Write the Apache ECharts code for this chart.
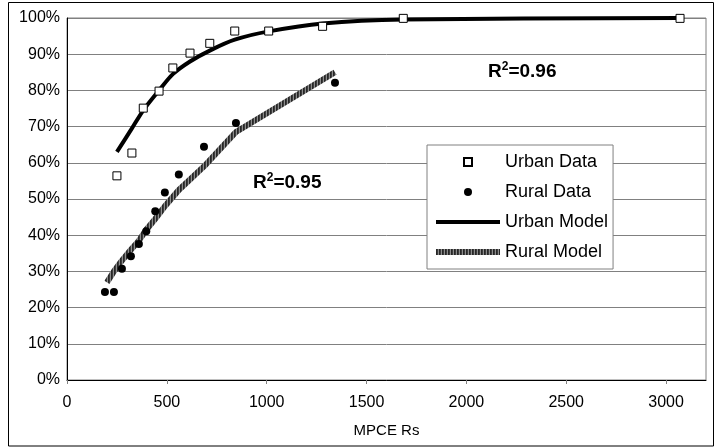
<!DOCTYPE html>
<html>
<head>
<meta charset="utf-8">
<script src="https://cdn.jsdelivr.net/npm/echarts@6/dist/echarts.min.js"></script>
<style>
  html, body { margin: 0; padding: 0; background: #fff; }
  #chart-container { width: 716px; height: 448px; }
</style>
</head>
<body>
<div id="chart-container"></div>
<script>
// values (MPCE Rs vs cumulative %)
const urbanX = [250, 325, 382, 461, 530, 616, 715, 840, 1010, 1280, 1684, 3070];
const urbanY = [56.4, 62.7, 75.1, 79.8, 86.2, 90.3, 93.0, 96.4, 96.4, 97.7, 99.9, 99.9];
const urbanModel = [63, 69.5, 74.5, 80, 84.5, 88, 91, 94, 96.3, 98.5, 99.6, 100];

const ruralX = [190, 235, 275, 320, 360, 397, 442, 490, 560, 686, 846, 1342];
const ruralY = [24.3, 24.3, 30.7, 34.2, 37.6, 41.1, 46.6, 51.8, 56.8, 64.4, 71.0, 82.1];
const ruralModelX = [200, 235, 275, 320, 360, 397, 442, 490, 560, 686, 846, 1342];
const ruralModel = [27, 30, 33, 36, 38.5, 41.5, 44.5, 48, 52.5, 59, 68.5, 85];

const xTicks = [0, 500, 1000, 1500, 2000, 2500, 3000];
const seriesNames = ['Urban Data', 'Rural Data', 'Urban Model', 'Rural Model'];

const FONT = '"Liberation Sans", Arial, sans-serif';
const SQUARE = 'path://M0,0L10,0L10,10L0,10Z';

function pairs(xs, ys) {
    return xs.map((x, i) => [x, ys[i]]);
}

// striped fill for the rural model line
function stripePattern() {
    const c = document.createElement('canvas');
    c.width = 3;
    c.height = 1;
    const ctx = c.getContext('2d');
    ctx.fillStyle = '#262626'; ctx.fillRect(0, 0, 1, 1);
    ctx.fillStyle = '#3c3c3c'; ctx.fillRect(1, 0, 1, 1);
    ctx.fillStyle = '#8c8c8c'; ctx.fillRect(2, 0, 1, 1);
    return {image: c, repeat: 'repeat'};
}

const rural_stripes = stripePattern();

const chartDom = document.getElementById('chart-container');
const myChart = echarts.init(chartDom, null, {renderer: 'canvas'});

const superText = (txt) => ({
    text: '{a|R}{s|2}{a|=' + txt + '}',
    rich: {
        a: {fontFamily: FONT, fontSize: 19, fontWeight: 'bold', fill: '#000'},
        s: {fontFamily: FONT, fontSize: 12, fontWeight: 'bold', fill: '#000', padding: [0, 0, 9, 0]}
    }
});

const option = {
    animation: false,
    backgroundColor: '#fff',
    textStyle: {fontFamily: FONT, color: '#000'},
    grid: {
        left: 67, right: 10, top: 18, bottom: 68,
        show: true, borderColor: '#808080', borderWidth: 1
    },
    xAxis: {
        type: 'value',
        min: 0, max: 3200, interval: 500,
        name: 'MPCE Rs',
        nameLocation: 'middle',
        nameGap: 43,
        nameTextStyle: {fontFamily: FONT, fontSize: 15, color: '#000'},
        axisLine: {show: true, lineStyle: {color: '#000', width: 1}},
        axisTick: {show: true, length: 4, inside: false, customValues: xTicks, lineStyle: {color: '#808080'}},
        axisLabel: {
            customValues: xTicks,
            formatter: (v) => String(v),
            fontFamily: FONT, fontSize: 16, color: '#000', margin: 15
        },
        splitLine: {show: false}
    },
    yAxis: {
        type: 'value',
        min: 0, max: 100, interval: 10,
        axisLine: {show: true, lineStyle: {color: '#000', width: 1}},
        axisTick: {show: false},
        axisLabel: {formatter: '{value}%', fontFamily: FONT, fontSize: 16, color: '#000', margin: 7},
        splitLine: {show: true, lineStyle: {color: '#808080', width: 1}}
    },
    legend: {
        data: [
            {name: seriesNames[0], icon: SQUARE},
            {name: seriesNames[1], icon: 'circle'},
            {name: seriesNames[2], itemStyle: {opacity: 0}, lineStyle: {width: 4, color: '#000'}},
            {name: seriesNames[3], itemStyle: {opacity: 0}, lineStyle: {width: 6, color: rural_stripes}}
        ],
        orient: 'vertical',
        left: 427, top: 145,
        padding: [8, 5, 8, 6],
        itemWidth: 64, itemHeight: 8, itemGap: 12,
        symbolKeepAspect: true,
        backgroundColor: '#fff',
        borderColor: '#808080', borderWidth: 1,
        borderRadius: 0,
        textStyle: {fontFamily: FONT, fontSize: 18, color: '#000'},
        z: 10
    },
    graphic: [
        {type: 'text', left: 488, top: 61, z: 20, style: superText('0.96')},
        {type: 'text', left: 253, top: 172, z: 20, style: superText('0.95')},
        {
            type: 'rect', z: 30, silent: true,
            shape: {x: 8.5, y: 2.5, width: 705, height: 443.5},
            style: {fill: null, stroke: '#000', lineWidth: 1}
        }
    ],
    series: [
        {
            name: 'Urban Data',
            type: 'scatter',
            symbol: 'rect',
            symbolSize: 8,
            z: 5,
            itemStyle: {color: '#fff', borderColor: '#000', borderWidth: 1, opacity: 1},
            data: pairs(urbanX, urbanY)
        },
        {
            name: 'Rural Data',
            type: 'scatter',
            symbol: 'circle',
            symbolSize: 8,
            z: 5,
            itemStyle: {color: '#000', opacity: 1},
            data: pairs(ruralX, ruralY)
        },
        {
            name: 'Urban Model',
            type: 'line',
            smooth: 0.3,
            symbol: 'none',
            z: 3,
            itemStyle: {color: '#000'},
            lineStyle: {color: '#000', width: 4},
            data: pairs(urbanX, urbanModel)
        },
        {
            name: 'Rural Model',
            type: 'line',
            symbol: 'none',
            z: 3,
            itemStyle: {color: '#444'},
            lineStyle: {color: rural_stripes, width: 6},
            data: pairs(ruralModelX, ruralModel)
        }
    ]
};

option && myChart.setOption(option, true);
</script>
</body>
</html>
